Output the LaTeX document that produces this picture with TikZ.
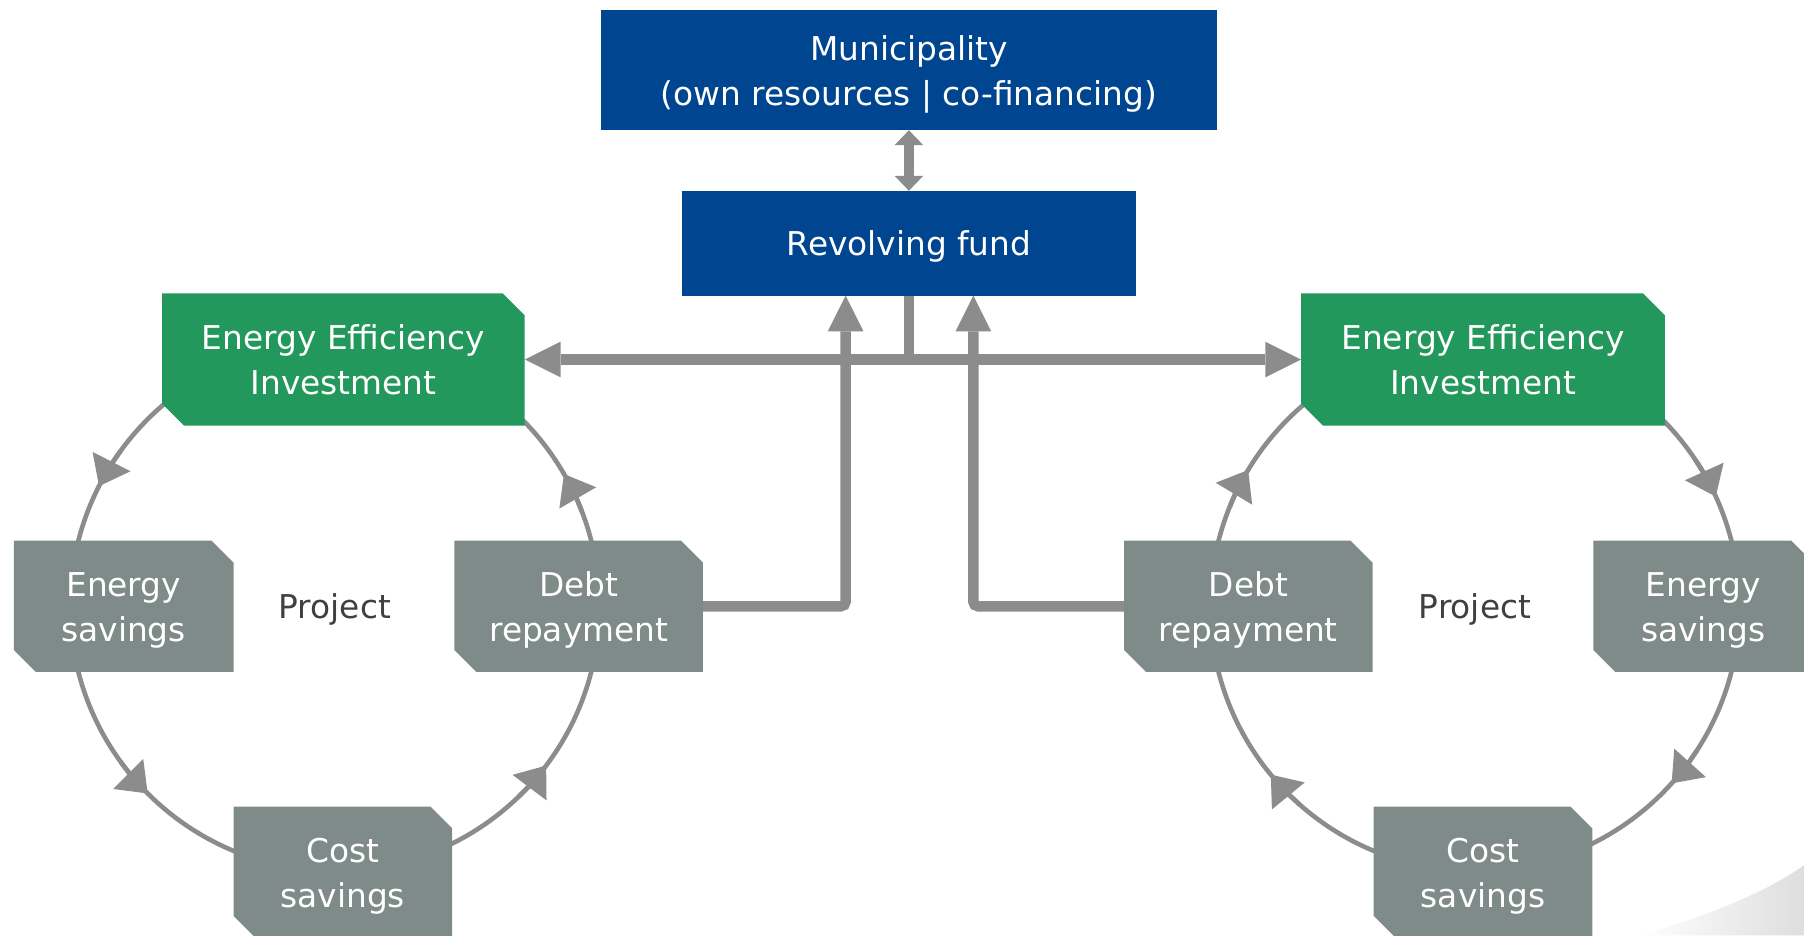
\documentclass[tikz,border=0pt]{standalone}
\usepackage{fontspec}
\setmainfont{DejaVu Sans}
\usetikzlibrary{arrows.meta,calc}
\definecolor{fundblue}{RGB}{0,69,143}
\definecolor{eegreen}{RGB}{34,152,92}
\definecolor{boxgray}{RGB}{127,139,137}
\definecolor{linegray}{RGB}{140,140,140}
\definecolor{projgray}{RGB}{64,64,64}
\newcommand\lnstrut{\rule[-8.5pt]{0pt}{39pt}}
\newcommand\chamfbox[7]{%
  \fill[#6] ({#2-#4/2},{#3+#5/2}) -- ({#2+#4/2-19},{#3+#5/2}) -- ({#2+#4/2},{#3+#5/2-19})
    -- ({#2+#4/2},{#3-#5/2}) -- ({#2-#4/2+19},{#3-#5/2}) -- ({#2-#4/2},{#3-#5/2+19}) -- cycle;
  \node[txt, minimum width=#4pt, minimum height=#5pt] (#1) at (#2,#3) {#7};}
\begin{document}
\begin{tikzpicture}[x=1pt,y=1pt,
  txt/.style={font=\fontsize{28.5}{39}\selectfont, text=white, align=center, inner sep=0pt},
  bluebox/.style={txt, rectangle, fill=fundblue},
  flow/.style={draw=linegray, line width=9pt},
  bigtip/.style={-{Triangle[length=31pt,width=31pt,line width=0pt]}},
  circ/.style={draw=linegray, line width=4pt},
  circtip/.style={circ, -{Triangle[length=24pt,width=37pt,line width=0pt]}},
  projtxt/.style={font=\fontsize{28.5}{39}\selectfont, text=projgray, inner sep=0pt}
]
\useasboundingbox (0,0) rectangle (1568,-813);
\clip (0,0) rectangle (1568,-813);
% shadow bottom right
\shade[left color=white, right color=black!13] (1425,-813) .. controls (1495,-793) and (1540,-772) .. (1568,-752) -- (1568,-813) -- cycle;
% cycles
\coordinate (cL) at (291,-527);
\coordinate (cR) at (1282,-527);
\draw[circ] (cL) circle (230);
\draw[circ] (cR) circle (230);
\foreach \a in {150,222,320,27}
  \draw[circtip] ($(cL)+(\a-6:230)$) arc[start angle=\a-6, end angle=\a+3, radius=230];
\foreach \a in {152,222.5,321,27.5}
  \draw[circtip] ($(cR)+(\a+6:230)$) arc[start angle=\a+6, end angle=\a-3, radius=230];
% top boxes
\node[bluebox, minimum width=536pt, minimum height=104pt] (muni) at (790,-61)
  {\lnstrut Municipality\\\lnstrut(own resources | co-financing)};
\node[bluebox, minimum width=394pt, minimum height=91pt] (fund) at (790,-211.5) {\lnstrut Revolving fund};
% chamfered boxes
\chamfbox{eeL}{298.5}{-312.5}{315}{115}{eegreen}{\lnstrut Energy Efficiency\\\lnstrut Investment}
\chamfbox{eeR}{1289}{-312.5}{316}{115}{eegreen}{\lnstrut Energy Efficiency\\\lnstrut Investment}
\chamfbox{esL}{107.5}{-527}{191}{114}{boxgray}{\lnstrut Energy\\\lnstrut savings}
\chamfbox{drL}{503}{-527}{216}{114}{boxgray}{\lnstrut Debt\\\lnstrut repayment}
\chamfbox{csL}{298}{-758}{190}{114}{boxgray}{\lnstrut Cost\\\lnstrut savings}
\chamfbox{drR}{1085}{-527}{216}{114}{boxgray}{\lnstrut Debt\\\lnstrut repayment}
\chamfbox{esR}{1480.5}{-527}{191}{114}{boxgray}{\lnstrut Energy\\\lnstrut savings}
\chamfbox{csR}{1289}{-758}{190}{114}{boxgray}{\lnstrut Cost\\\lnstrut savings}
\node[projtxt] (pL) at (291,-527) {\lnstrut Project};
\node[projtxt] (pR) at (1282,-527) {\lnstrut Project};
% connectors
\draw[flow, {Triangle[length=13pt,width=25pt,line width=0pt]}-{Triangle[length=13pt,width=25pt,line width=0pt]}] (muni.south) -- (fund.north);
\coordinate (jn) at (fund.south |- eeL.east);
\draw[flow] (fund.south) -- (jn);
\draw[flow, {Triangle[length=31pt,width=31pt,line width=0pt]}-{Triangle[length=31pt,width=31pt,line width=0pt]}] (eeL.east) -- (eeR.west);
\coordinate (upL) at (735,-257);
\coordinate (upR) at (846,-257);
\draw[flow, bigtip, rounded corners=4pt] (drL.east) -| (upL);
\draw[flow, bigtip, rounded corners=4pt] (drR.west) -| (upR);
\end{tikzpicture}
\end{document}
